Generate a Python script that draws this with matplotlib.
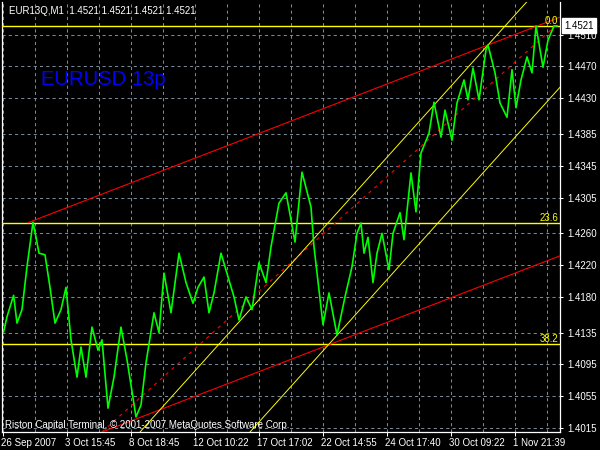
import matplotlib
matplotlib.use("Agg")
import matplotlib.pyplot as plt
import matplotlib.transforms as mtransforms

# ---- data (bar position, price) ----
bars = [3.6, 7, 13.6, 17, 22, 27, 33, 36, 39, 45, 50, 55, 61, 66, 71, 77, 81, 86, 92, 98,
        102, 108, 114, 121, 127, 136, 141, 146, 154, 159, 164, 171, 179, 186, 193, 198, 204,
        209, 214, 221, 229, 234, 239, 246, 252, 259, 266, 271, 279, 286, 291, 295, 302, 311,
        314, 323, 329, 337, 345, 352, 357, 361, 364, 368, 373, 377, 382, 389, 393, 400, 404,
        411, 416, 421, 429, 434, 441, 445, 452, 457, 464, 468, 473, 479, 486, 488, 495, 500,
        507, 512, 516, 521, 527, 532, 536, 543, 548, 554, 557]
prices = [1.4136, 1.4155, 1.4182, 1.4147, 1.4164, 1.4218, 1.4274, 1.4255, 1.4235, 1.4233,
          1.4192, 1.4147, 1.4164, 1.4192, 1.4126, 1.4079, 1.4117, 1.4079, 1.4142, 1.4113,
          1.4126, 1.4040, 1.4079, 1.4142, 1.4101, 1.4029, 1.4044, 1.4097, 1.4160, 1.4135,
          1.4210, 1.4160, 1.4235, 1.4198, 1.4172, 1.4192, 1.4205, 1.4160, 1.4185, 1.4235,
          1.4201, 1.4180, 1.4151, 1.4180, 1.4164, 1.4223, 1.4198, 1.4243, 1.4298, 1.4311,
          1.4277, 1.4249, 1.4337, 1.4293, 1.4243, 1.4145, 1.4185, 1.4132, 1.4180, 1.4218,
          1.4260, 1.4273, 1.4235, 1.4255, 1.4198, 1.4235, 1.4260, 1.4214, 1.4260, 1.4286,
          1.4252, 1.4336, 1.4287, 1.4361, 1.4386, 1.4425, 1.4381, 1.4415, 1.4377, 1.4424,
          1.4453, 1.4428, 1.4468, 1.4428, 1.4491, 1.4497, 1.4462, 1.4424, 1.4406, 1.4466,
          1.4418, 1.4453, 1.4482, 1.4462, 1.4521, 1.4469, 1.4503, 1.4521, 1.4521]

# trend lines: (bar0, price0, bar1, price1)
red_upper = (28, 1.42734, 560, 1.45320)
red_lower = (90, 1.40041, 560, 1.42317)
red_mid = (102, 1.40102, 560, 1.45261)
yellow_upper = (140, 1.40100, 528, 1.45530)
yellow_lower = (250, 1.40100, 560, 1.44438)

fib_levels = [1.4521, 1.42734, 1.41202]
fib_labels = ["0.0", "23.6", "38.2"]

price_ticks = [1.4510, 1.4470, 1.4430, 1.4385, 1.4345, 1.4305, 1.4260, 1.4220,
               1.4180, 1.4135, 1.4095, 1.4055, 1.4015]
time_pos = [3, 67, 131, 195, 259, 323, 387, 451, 515]
time_labels = ["26 Sep 2007", "3 Oct 15:45", "8 Oct 18:45", "12 Oct 10:22", "17 Oct 17:02",
               "22 Oct 14:55", "24 Oct 17:40", "30 Oct 09:22", "1 Nov 21:39"]
minor_pos = [35, 99, 163, 227, 291, 355, 419, 483, 547]
last_price = 1.4521

FONT = "Liberation Sans"
GRID = "#778899"

fig = plt.figure(figsize=(6, 4.5), dpi=100, facecolor="black")
ax = fig.add_axes([2 / 600, 18 / 450, 558 / 600, 430 / 450], facecolor="black")
ax.set_xlim(2, 560)
ax.set_ylim(1.40100, 1.45511)

# grid
ax.set_yticks(price_ticks)
ax.set_yticklabels([f"{p:.4f}" for p in price_ticks])
ax.set_xticks(time_pos)
ax.set_xticklabels(time_labels)
ax.set_xticks(minor_pos, minor=True)
ax.grid(True, which="both", color=GRID, linestyle=(0, (3, 3)), linewidth=0.75)
ax.set_axisbelow(True)

ax.yaxis.tick_right()
ax.tick_params(axis="y", colors="white", length=2, width=0.75, pad=3.5, labelsize=7,
               labelfontfamily=FONT)
ax.tick_params(axis="x", colors="white", length=3, width=0.75, pad=1.5, labelsize=7,
               labelfontfamily=FONT)
ax.tick_params(axis="x", which="minor", length=0)
for lab in ax.get_xticklabels():
    lab.set_horizontalalignment("left")
    lab.set_transform(lab.get_transform() +
                      mtransforms.ScaledTranslation(-2 / 100, 0, fig.dpi_scale_trans))

for side in ["left", "bottom", "right"]:
    ax.spines[side].set_color("white")
    ax.spines[side].set_linewidth(0.9)
ax.spines["top"].set_visible(False)

# fibo horizontal lines
for lvl, lab in zip(fib_levels, fib_labels):
    ax.axhline(lvl, color="#ffff00", linewidth=1.0, zorder=3)
    ax.text(558, lvl, lab, color="#ffff00", fontsize=7, family=FONT,
            ha="right", va="bottom", zorder=5)

# trend lines
def seg(t, **kw):
    ax.plot([t[0], t[2]], [t[1], t[3]], **kw)

seg(red_upper, color="#ff0000", linewidth=0.8, zorder=3)
seg(red_lower, color="#ff0000", linewidth=0.8, zorder=3)
seg(red_mid, color="#ff0000", linewidth=0.8, linestyle=(0, (3, 4)), zorder=3)
seg(yellow_upper, color="#ffff00", linewidth=0.7, zorder=3)
seg(yellow_lower, color="#ffff00", linewidth=0.7, zorder=3)

# price series
ax.plot(bars, prices, color="#00ff00", linewidth=1.2, zorder=4)

# texts
ax.text(41, 1.44467, "EURUSD 13p", color="#0000ff", fontsize=14.6, family=FONT,
        ha="left", va="baseline", zorder=6)
ax.text(7 / 558, 1 - 8.7 / 430, "EUR13Q,M1  1.4521 1.4521 1.4521 1.4521", color="white",
        fontsize=7, family=FONT, ha="left", va="center", transform=ax.transAxes, zorder=6)
ax.text(3 / 558, 7.5 / 430, "Riston Capital Terminal, © 2001-2007 MetaQuotes Software Corp.",
        color="white", fontsize=7, family=FONT, ha="left", va="center",
        transform=ax.transAxes, zorder=6)

trans = mtransforms.blended_transform_factory(ax.transAxes, ax.transData)
ax.text(1 + 4.5 / 558, last_price, "1.4521", color="black", fontsize=7, family=FONT,
        ha="left", va="center", transform=trans, zorder=7, clip_on=False,
        bbox=dict(boxstyle="square,pad=0.25", fc="white", ec="white"))

fig.savefig("out.png", dpi=100, facecolor="black")
